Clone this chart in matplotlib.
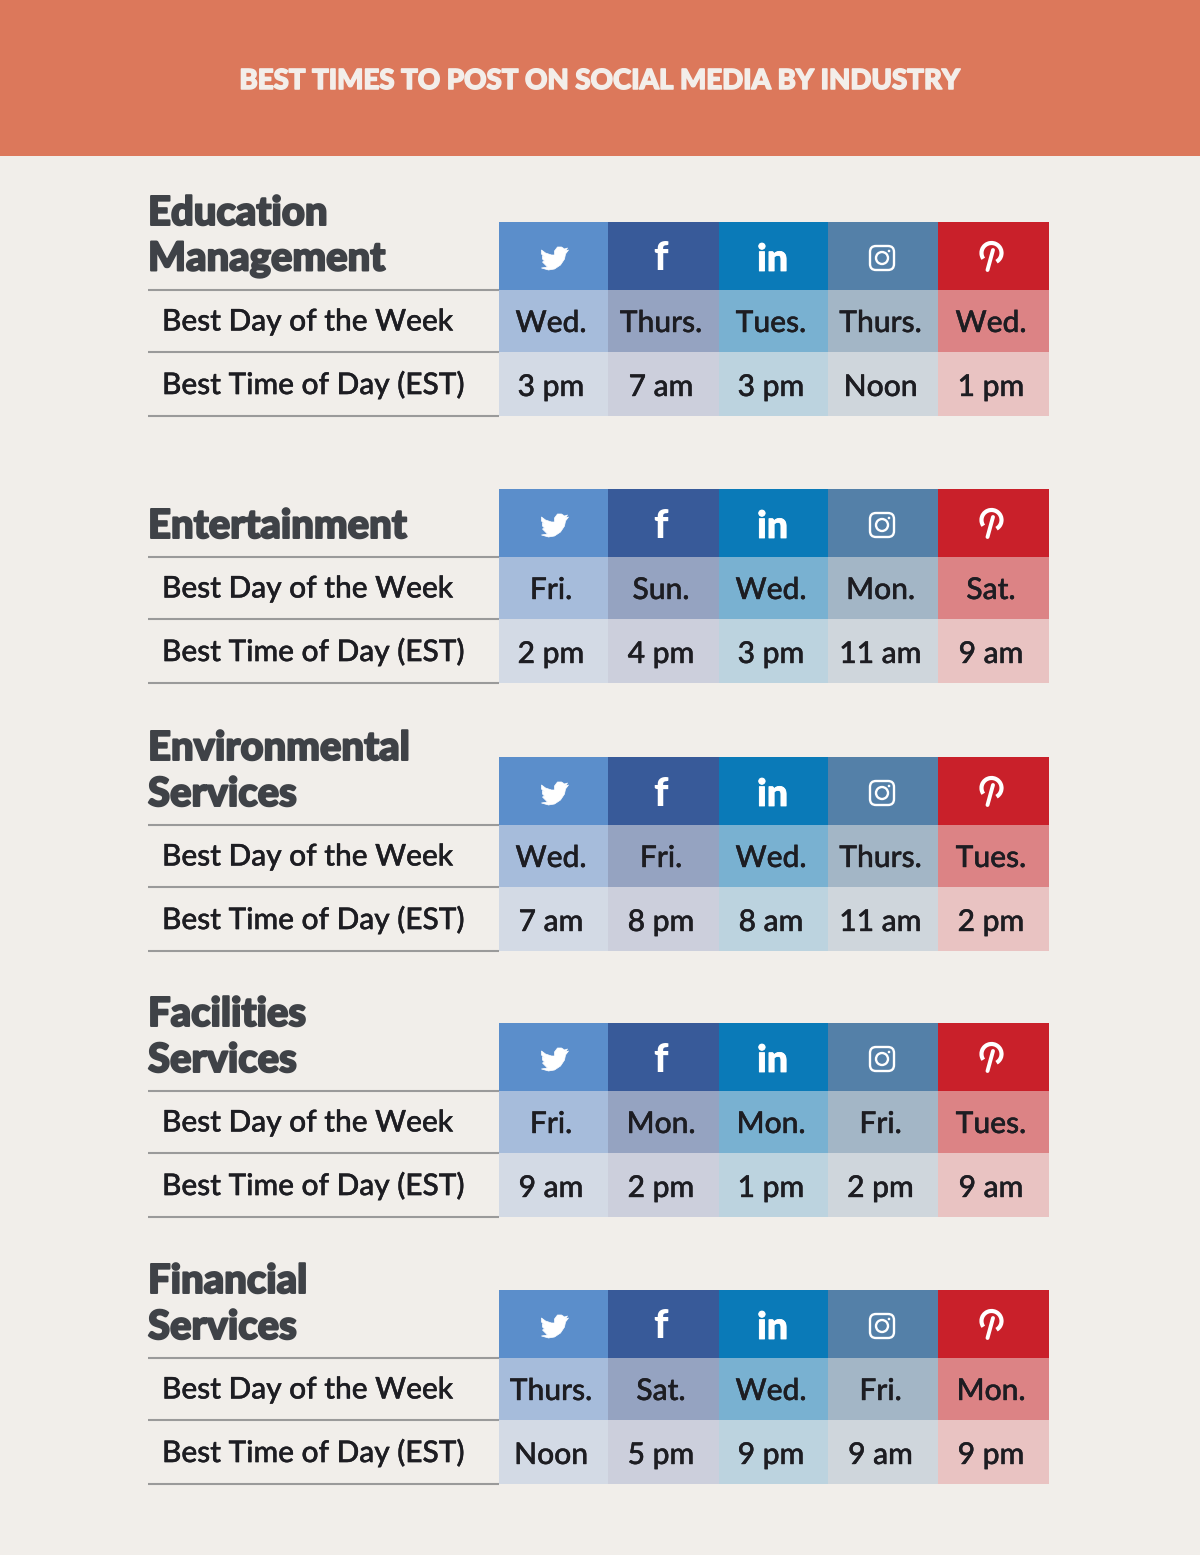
import matplotlib
matplotlib.use('Agg')
import matplotlib.pyplot as plt
import matplotlib.patheffects as pe
from matplotlib.patches import Rectangle, FancyBboxPatch, Circle, PathPatch, Arc
from matplotlib.path import Path

plt.rcParams['font.family'] = ['Lato', 'DejaVu Sans']

# datos de la tabla
titulo = 'BEST TIMES TO POST ON SOCIAL MEDIA BY INDUSTRY'
industrias = ['Education\nManagement', 'Entertainment', 'Environmental\nServices',
              'Facilities\nServices', 'Financial\nServices']
filas = ['Best Day of the Week', 'Best Time of Day (EST)']
dias = [['Wed.', 'Thurs.', 'Tues.', 'Thurs.', 'Wed.'],
        ['Fri.', 'Sun.', 'Wed.', 'Mon.', 'Sat.'],
        ['Wed.', 'Fri.', 'Wed.', 'Thurs.', 'Tues.'],
        ['Fri.', 'Mon.', 'Mon.', 'Fri.', 'Tues.'],
        ['Thurs.', 'Sat.', 'Wed.', 'Fri.', 'Mon.']]
horas = [['3 pm', '7 am', '3 pm', 'Noon', '1 pm'],
         ['2 pm', '4 pm', '3 pm', '11 am', '9 am'],
         ['7 am', '8 pm', '8 am', '11 am', '2 pm'],
         ['9 am', '2 pm', '1 pm', '2 pm', '9 am'],
         ['Noon', '5 pm', '9 pm', '9 am', '9 pm']]

# posiciones y colores
tops = [222, 489, 757, 1023, 1290]
cols = [499, 608, 719, 828, 938, 1049]
col_head = ['#5b8ecb', '#385a99', '#0a7ab8', '#5480a8', '#c9202a']
col_dia = ['#a6bcdb', '#95a3c1', '#79b1d1', '#a3b6c6', '#dc8385']
col_hora = ['#d3dae5', '#cccfdc', '#bcd3df', '#cfd6dc', '#e9c3c2']
fondo = '#f1eeea'
texto = '#1d1d22'
gris = '#3f4247'


def grueso(ancho, color):
    return [pe.withStroke(linewidth=ancho, foreground=color)]


fig = plt.figure(figsize=(12, 15.55), dpi=100, facecolor=fondo)
ax = fig.add_axes([0, 0, 1, 1])
ax.set_xlim(0, 1200)
ax.set_ylim(1555, 0)
ax.axis('off')

ax.add_patch(Rectangle((0, 0), 1200, 156, color='#dc785b', lw=0))
ax.text(599, 81, titulo, color='#f3eeea', fontsize=19.9, fontweight='black',
        ha='center', va='center', path_effects=grueso(1.1, '#f3eeea'))


def twitter(cx, cy):
    pts = [(-13, -8), (-9, -5), (-3, -3), (0, -3), (0, -7), (3, -11), (7, -11), (10, -9),
           (13, -10), (11, -7), (14, -8), (11, -4), (10, 1), (6, 7), (0, 11), (-6, 12),
           (-13, 10), (-7, 9), (-10, 6), (-12, 4), (-10, 3), (-12, 1), (-12, -2), (-10, -1),
           (-13, -4)]
    xy = [(cx + a, cy + b) for a, b in pts] + [(cx + pts[0][0], cy + pts[0][1])]
    ax.add_patch(PathPatch(Path(xy, closed=True), fc='white', ec='white', lw=0.5, joinstyle='round'))


def instagram(cx, cy):
    ax.add_patch(FancyBboxPatch((cx - 9.5, cy - 9.5), 19, 19, boxstyle='round,pad=2.5,rounding_size=6',
                                fc='none', ec='white', lw=1.7))
    ax.add_patch(Circle((cx, cy), 6, fc='none', ec='white', lw=1.7))
    ax.add_patch(Circle((cx + 7, cy - 7), 1.3, fc='white', ec='none'))


def pinterest(cx, cy):
    ax.add_patch(Arc((cx, cy - 4), 20, 20, theta1=-215, theta2=60, ec='white', lw=3))
    ax.plot([cx + 1.5, cx - 4], [cy - 7, cy + 13], color='white', lw=2.8, solid_capstyle='round')


for i, top in enumerate(tops):
    h1, h2, h3 = top + 68, top + 130, top + 193.5
    # titulo de cada bloque
    lineas = industrias[i].split('\n')
    for j, linea in enumerate(reversed(lineas)):
        ax.text(148, top + 37.5 - 46 * j, linea, color=gris, fontsize=28.8, fontweight='black',
                ha='left', va='center', path_effects=grueso(1.4, gris))
    # lineas y nombres de fila
    for y in (h1, h2, h3):
        ax.plot([148, 499], [y, y], color='#9a9a9a', lw=1.5, solid_capstyle='butt')
    for k, yy in enumerate((top + 99.5, top + 162.5)):
        ax.text(162, yy, filas[k], color=texto, fontsize=21.5, fontweight='medium', ha='left', va='center',
                path_effects=grueso(0.3, texto))
    # celdas
    for c in range(5):
        x0, x1 = cols[c], cols[c + 1]
        xc = (x0 + x1) / 2 - 2.5
        ax.add_patch(Rectangle((x0, top), x1 - x0, h1 - top, color=col_head[c], lw=0))
        ax.add_patch(Rectangle((x0, h1), x1 - x0, h2 - h1, color=col_dia[c], lw=0))
        ax.add_patch(Rectangle((x0, h2), x1 - x0, h3 - h2, color=col_hora[c], lw=0))
        ax.text(xc, top + 101, dias[i][c], color=texto, fontsize=21.6, fontweight='medium', ha='center', va='center',
                path_effects=grueso(0.3, texto))
        ax.text(xc, top + 165, horas[i][c], color=texto, fontsize=21.6, fontweight='medium', ha='center', va='center',
                path_effects=grueso(0.3, texto))
    # iconos
    twitter((cols[0] + cols[1]) / 2 + 1, top + 36)
    ax.text((cols[1] + cols[2]) / 2 - 3, top + 37, 'f', color='white', fontsize=29, fontweight='black', ha='center', va='center')
    ax.text((cols[2] + cols[3]) / 2 - 1, top + 38, 'in', color='white', fontsize=27, fontweight='black', ha='center', va='center',
            path_effects=grueso(0.6, 'white'))
    instagram((cols[3] + cols[4]) / 2 - 1, top + 36)
    pinterest((cols[4] + cols[5]) / 2 - 2, top + 35)

fig.savefig('out.png', dpi=100, facecolor=fondo)
